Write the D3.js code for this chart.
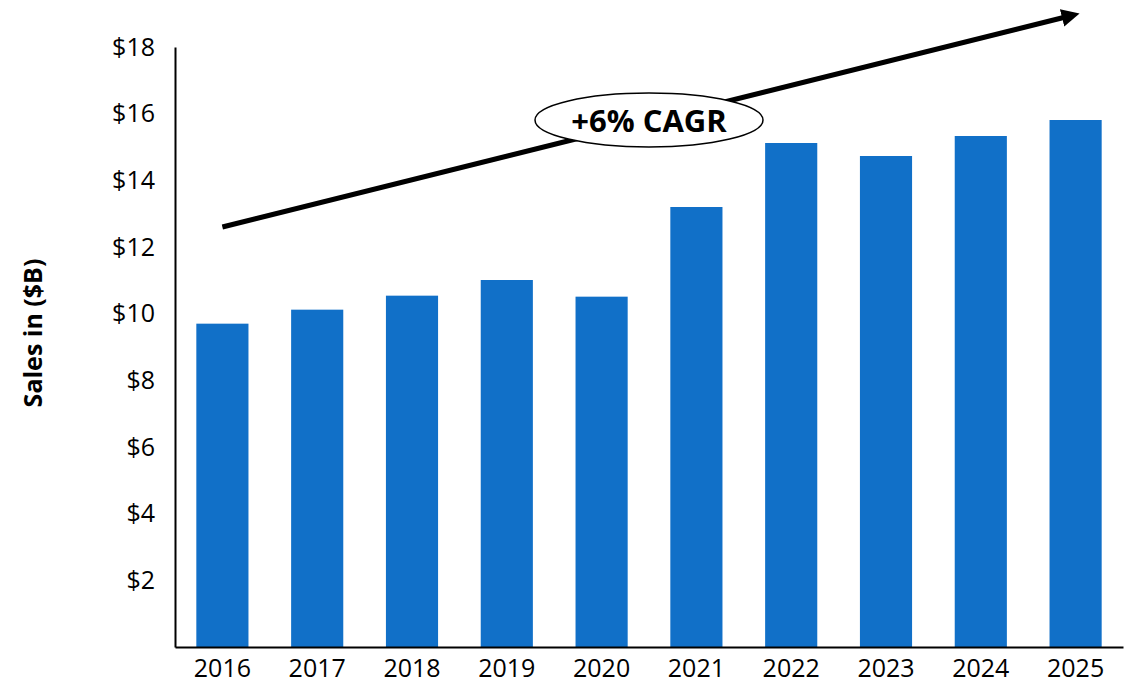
<!DOCTYPE html>
<html>
<head>
<meta charset="utf-8">
<script src="https://cdn.jsdelivr.net/npm/d3@7"></script>
<style>
  body { margin: 0; background: #fff; }
  text { font-family: "Open Sans", sans-serif; }
</style>
</head>
<body>
<div id="chart"></div>
<script>
var years = ["2016", "2017", "2018", "2019", "2020", "2021", "2022", "2023", "2024", "2025"];
var sales = [9.7, 10.12, 10.54, 11.01, 10.51, 13.2, 15.12, 14.73, 15.33, 15.81];
var yTicks = [2, 4, 6, 8, 10, 12, 14, 16, 18];
var cagrLabel = "+6% CAGR";

var width = 1132;
var height = 685;
var margin = {top: 47, right: 9, bottom: 38, left: 175};

var svg = d3.select("#chart")
  .append("svg")
    .attr("width", width)
    .attr("height", height);

var x = d3.scaleBand()
  .domain(years)
  .range([margin.left, width - margin.right])
  .paddingInner(0.45)
  .paddingOuter(0.225);

var y = d3.scaleLinear()
  .domain([0, 18])
  .range([height - margin.bottom, margin.top]);

// bars
svg.append("g")
  .selectAll("rect")
  .data(sales)
  .enter()
  .append("rect")
    .attr("x", function(d, i){ return x(years[i]); })
    .attr("y", function(d){ return y(d); })
    .attr("width", x.bandwidth())
    .attr("height", function(d){ return y(0) - y(d); })
    .style("fill", "#1170c8");

// y axis
var yAxis = svg.append("g")
  .attr("transform", "translate(" + margin.left + ",0)")
  .call(d3.axisLeft(y).tickValues(yTicks).tickSize(0).tickPadding(20)
    .tickFormat(function(d){ return "$" + d; }));
yAxis.select(".domain").attr("stroke", "#000").attr("stroke-width", 2);
yAxis.selectAll("text").style("font-size", "25px").attr("fill", "#000");

// x axis
var xAxis = svg.append("g")
  .attr("transform", "translate(0," + y(0) + ")")
  .call(d3.axisBottom(x).tickSize(0).tickPadding(12));
xAxis.select(".domain").attr("stroke", "#000").attr("stroke-width", 2);
xAxis.selectAll("text").style("font-size", "25px").attr("fill", "#000");

// y label
svg.append("text")
  .attr("transform", "translate(42,333) rotate(-90)")
  .attr("text-anchor", "middle")
  .style("font-size", "25px")
  .style("font-weight", "bold")
  .text("Sales in ($B)");

// CAGR arrow
svg.append("defs").append("marker")
  .attr("id", "arrowhead")
  .attr("viewBox", "0 0 10 10")
  .attr("refX", 2)
  .attr("refY", 5)
  .attr("markerWidth", 3.6)
  .attr("markerHeight", 3.6)
  .attr("orient", "auto")
  .append("path")
    .attr("d", "M0,0 L10,5 L0,10 z")
    .attr("fill", "#000");

var x0 = x("2016") + x.bandwidth() / 2;
var x1 = x("2025") + x.bandwidth() / 2 - 10;
svg.append("line")
  .attr("x1", x0)
  .attr("y1", y(12.6))
  .attr("x2", x1)
  .attr("y2", y(18.9))
  .attr("stroke", "#000")
  .attr("stroke-width", 5)
  .attr("marker-end", "url(#arrowhead)");

svg.append("ellipse")
  .attr("cx", 649)
  .attr("cy", 120)
  .attr("rx", 114)
  .attr("ry", 27)
  .attr("fill", "#fff")
  .attr("stroke", "#000")
  .attr("stroke-width", 1.5);

svg.append("text")
  .attr("x", 649)
  .attr("y", 132)
  .attr("text-anchor", "middle")
  .style("font-size", "31px")
  .style("font-weight", "bold")
  .text(cagrLabel);
</script>
</body>
</html>
